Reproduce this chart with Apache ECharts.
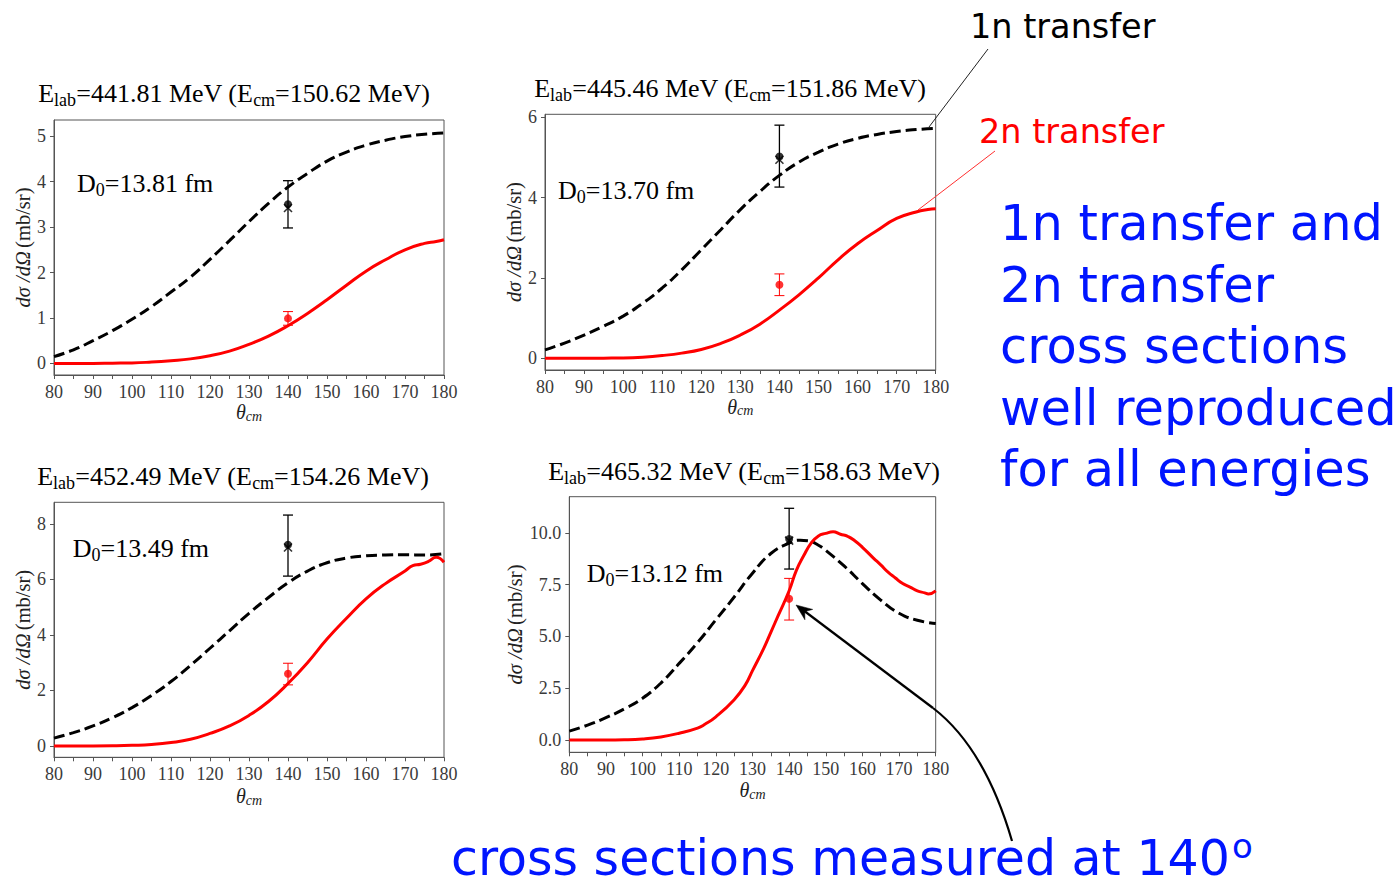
<!DOCTYPE html>
<html><head><meta charset="utf-8">
<script src="https://cdn.jsdelivr.net/npm/echarts@6/dist/echarts.min.js"></script>
<style>html,body{margin:0;padding:0;background:#fff}#c{width:1399px;height:886px}</style>
</head><body><div id="c"></div>
<script>
// ---------- data ----------
const thetaA = [80,85,90,95,100,105,110,115,120,125,130,135,140,145,150,155,160,165,170,175,180];
const thetaB = [80,85,90,95,100,105,110,115,120,125,130,135,140,145,150,155,160,165,170,175,178,180];
const thetaC = [80,85,90,95,100,105,110,115,120,125,130,135,140,145,150,155,160,165,170,172,174,176,178,180];
const thetaD1 = [80,85,90,95,100,105,110,115,120,125,130,135,140,143,145,148,150,155,160,165,170,175,180];
const thetaD2 = [80,85,90,95,100,105,110,115,117,120,125,128,130,133,135,137,140,142,144,146,148,150,152,154,156,158,160,163,165,167,169,171,173,175,177,178,180];

const p1_1n = [0.15,0.3,0.5,0.72,0.97,1.25,1.57,1.9,2.29,2.7,3.12,3.52,3.88,4.18,4.45,4.65,4.8,4.91,4.99,5.04,5.07];
const p1_2n = [0,0,0,0.005,0.01,0.03,0.06,0.1,0.17,0.27,0.42,0.6,0.83,1.1,1.4,1.72,2.03,2.28,2.5,2.64,2.68,2.72];
const p2_1n = [0.21,0.38,0.58,0.8,1.05,1.37,1.75,2.2,2.7,3.2,3.7,4.15,4.55,4.88,5.13,5.33,5.47,5.57,5.64,5.69,5.72];
const p2_2n = [0,0,0,0.005,0.01,0.03,0.07,0.13,0.22,0.37,0.58,0.85,1.2,1.58,2.0,2.45,2.85,3.18,3.48,3.64,3.7,3.72];
const p3_1n = [0.28,0.48,0.72,1.02,1.38,1.82,2.32,2.9,3.52,4.15,4.78,5.35,5.88,6.3,6.6,6.77,6.85,6.88,6.89,6.88,6.93];
const p3_2n = [0,0,0,0.005,0.02,0.05,0.12,0.24,0.45,0.72,1.1,1.6,2.25,3.0,3.85,4.6,5.3,5.85,6.3,6.5,6.55,6.65,6.8,6.62];
const p4_1n = [0.43,0.72,1.08,1.5,2.02,2.75,3.7,4.7,5.8,6.9,8.05,9.0,9.5,9.64,9.62,9.4,9.15,8.4,7.55,6.75,6.12,5.78,5.62];
const p4_2n = [0,0,0,0.01,0.05,0.15,0.33,0.58,0.76,1.12,1.95,2.65,3.35,4.4,5.2,6.0,7.2,8.2,8.9,9.5,9.85,9.97,10.05,9.93,9.83,9.6,9.3,8.78,8.45,8.1,7.82,7.55,7.38,7.2,7.1,7.05,7.2];

const measTheta = 140;
const exp1n = [3.5, 5.02, 7.25, 9.7];
const exp1nCross = [3.42, 4.94, 7.15, 9.62];
const err1nLow = [2.98, 4.26, 6.12, 8.25];
const err1nHigh = [4.02, 5.8, 8.32, 11.18];
const exp2n = [0.99, 1.83, 2.6, 6.82];
const err2nLow = [0.84, 1.56, 2.2, 5.79];
const err2nHigh = [1.14, 2.1, 2.98, 7.8];

const eLab = ['441.81','445.46','452.49','465.32'];
const eCm = ['150.62','151.86','154.26','158.63'];
const d0 = ['13.81','13.70','13.49','13.12'];

const xLabels = [80,90,100,110,120,130,140,150,160,170,180];
const yLabels = [[0,1,2,3,4,5],[0,2,4,6],[0,2,4,6,8],[0,2.5,5,7.5,10]];
const yDecimals = [0,0,0,1];

// ---------- layout ----------
const layout = [
  {left:54, top:120, width:390, height:255, ymin:-0.255, ymax:5.355, yGap:21, xGap:26,
   title:[234,93.5], d0:[77,183.5]},
  {left:545, top:114.3, width:390.7, height:255.7, ymin:-0.29, ymax:6.07, yGap:21, xGap:25,
   title:[730,88.5], d0:[558,190]},
  {left:54, top:502.3, width:390, height:255, ymin:-0.41, ymax:8.78, yGap:21, xGap:28,
   title:[233,476.5], d0:[72.7,548.3]},
  {left:569.3, top:496.7, width:366.4, height:255.6, ymin:-0.59, ymax:11.74, yGap:21, xGap:27,
   title:[744,471.5], d0:[586.7,573.3]}
];
const curves1n = [[thetaA,p1_1n],[thetaA,p2_1n],[thetaA,p3_1n],[thetaD1,p4_1n]];
const curves2n = [[thetaB,p1_2n],[thetaB,p2_2n],[thetaC,p3_2n],[thetaD2,p4_2n]];

const SERIF = 'Liberation Serif';
const SANS = 'DejaVu Sans';
const BLUE = '#0015ff';
const zip = (xs, ys) => xs.map((x,i)=>[x,ys[i]]);

const grids = [], xAxes = [], yAxes = [], series = [], graphics = [];

function errRender(color, lw) {
  return function(params, api) {
    const x = api.value(0);
    const lo = api.coord([x, api.value(1)]);
    const hi = api.coord([x, api.value(2)]);
    const hw = 5;
    const st = {stroke: color, lineWidth: lw, fill: null};
    return {type:'group', children:[
      {type:'line', shape:{x1:lo[0],y1:lo[1],x2:hi[0],y2:hi[1]}, style:st},
      {type:'line', shape:{x1:lo[0]-hw,y1:lo[1],x2:lo[0]+hw,y2:lo[1]}, style:st},
      {type:'line', shape:{x1:hi[0]-hw,y1:hi[1],x2:hi[0]+hw,y2:hi[1]}, style:st}
    ]};
  };
}

layout.forEach((L, i) => {
  grids.push({left:L.left, top:L.top, width:L.width, height:L.height, show:true,
    borderColor:'#555', borderWidth:1, backgroundColor:'transparent', containLabel:false});
  xAxes.push({type:'value', gridIndex:i, min:80, max:180, interval:5,
    axisLine:{show:true, onZero:false, lineStyle:{color:'#555', width:1}},
    axisTick:{show:true, length:4, lineStyle:{color:'#555', width:1}},
    splitLine:{show:false},
    axisLabel:{customValues:xLabels, margin:8, color:'#3a3a3a', fontFamily:SERIF, fontSize:18},
    name:'{i|θ}{s|cm}', nameLocation:'middle', nameGap:L.xGap,
    nameTextStyle:{rich:{
      i:{fontFamily:SERIF, fontStyle:'italic', fontSize:20, color:'#222', lineHeight:22},
      s:{fontFamily:SERIF, fontStyle:'italic', fontSize:14, color:'#222', lineHeight:14, verticalAlign:'bottom'}}}
  });
  yAxes.push({type:'value', gridIndex:i, min:L.ymin, max:L.ymax,
    axisLine:{show:true, onZero:false, lineStyle:{color:'#555', width:1}},
    axisTick:{show:true, length:4, customValues:yLabels[i], lineStyle:{color:'#555', width:1}},
    splitLine:{show:false},
    axisLabel:{customValues:yLabels[i], margin:8, color:'#3a3a3a', fontFamily:SERIF, fontSize:18,
      formatter: v => v.toFixed(yDecimals[i])},
    name:'{i|dσ /dΩ} {n|(mb/sr)}', nameLocation:'middle', nameGap:L.yGap,
    nameTextStyle:{rich:{
      i:{fontFamily:SERIF, fontStyle:'italic', fontSize:20.5, color:'#222'},
      n:{fontFamily:SERIF, fontSize:20.5, color:'#222'}}}
  });
  series.push({type:'line', name:'1n transfer', xAxisIndex:i, yAxisIndex:i,
    data: zip(curves1n[i][0], curves1n[i][1]), smooth:0.5, showSymbol:false,
    lineStyle:{color:'#000', width:3, type:[11,5]}, z:3});
  series.push({type:'line', name:'2n transfer', xAxisIndex:i, yAxisIndex:i,
    data: zip(curves2n[i][0], curves2n[i][1]), smooth:0.5, showSymbol:false,
    lineStyle:{color:'#ff0000', width:3}, z:3});
  series.push({type:'custom', xAxisIndex:i, yAxisIndex:i, renderItem: errRender('#000', 1.3),
    encode:{x:0, y:[1,2]}, data:[[measTheta, err1nLow[i], err1nHigh[i]]], z:4});
  series.push({type:'custom', xAxisIndex:i, yAxisIndex:i, renderItem: errRender('#ff0000', 1),
    encode:{x:0, y:[1,2]}, data:[[measTheta, err2nLow[i], err2nHigh[i]]], z:4});
  series.push({type:'scatter', xAxisIndex:i, yAxisIndex:i, data:[[measTheta, exp1nCross[i]]],
    symbol:'path://M0,0L10,10M10,0L0,10', symbolSize:8,
    itemStyle:{color:'none', borderColor:'#000', borderWidth:1.6}, z:5});
  series.push({type:'scatter', xAxisIndex:i, yAxisIndex:i, data:[[measTheta, exp1n[i]]],
    symbol:'circle', symbolSize:8, itemStyle:{color:'#000'}, z:6});
  series.push({type:'scatter', xAxisIndex:i, yAxisIndex:i, data:[[measTheta, exp2n[i]]],
    symbol:'circle', symbolSize:8, itemStyle:{color:'#ff0000'}, z:6});

  const rich = {
    n:{fontFamily:SERIF, fontSize:26, fill:'#000', lineHeight:31},
    s:{fontFamily:SERIF, fontSize:18, fill:'#000', lineHeight:18, verticalAlign:'bottom'}
  };
  graphics.push({type:'text', x:L.title[0], y:L.title[1], z:100,
    style:{text:'{n|E}{s|lab}{n|=' + eLab[i] + ' MeV (E}{s|cm}{n|=' + eCm[i] + ' MeV)}',
      rich:rich, align:'center', verticalAlign:'middle'}});
  graphics.push({type:'text', x:L.d0[0], y:L.d0[1], z:100,
    style:{text:'{n|D}{s|0}{n|=' + d0[i] + ' fm}', rich:rich, align:'left', verticalAlign:'middle'}});
});

// annotations
graphics.push({type:'text', x:970, y:26.5, z:100,
  style:{text:'1n transfer', fontFamily:SANS, fontSize:33.5, fill:'#000', align:'left', verticalAlign:'middle'}});
graphics.push({type:'text', x:979, y:131.5, z:100,
  style:{text:'2n transfer', fontFamily:SANS, fontSize:33.5, fill:'#ff0000', align:'left', verticalAlign:'middle'}});
graphics.push({type:'line', z:100, shape:{x1:988,y1:49,x2:929,y2:127}, style:{stroke:'#222', lineWidth:1}});
graphics.push({type:'line', z:100, shape:{x1:995,y1:151,x2:918,y2:210}, style:{stroke:'#ff3030', lineWidth:1}});
graphics.push({type:'text', x:1000, y:192.6, z:100,
  style:{text:'1n transfer and\n2n transfer\ncross sections\nwell reproduced\nfor all energies',
    fontFamily:SANS, fontSize:49.5, lineHeight:61.5, fill:BLUE, align:'left', verticalAlign:'top'}});
graphics.push({type:'text', x:451, y:858, z:100,
  style:{text:'{a|cross sections measured at 140}{b|o}', align:'left', verticalAlign:'middle',
    rich:{a:{fontFamily:SANS, fontSize:49, fill:BLUE, lineHeight:40},
          b:{fontFamily:SANS, fontSize:34, fill:BLUE, lineHeight:34, verticalAlign:'top', padding:[-9,0,0,2]}}}});
graphics.push({type:'polyline', z:100, shape:{points:[[803,610],[933,708]]},
  style:{stroke:'#000', lineWidth:2.2, fill:null}});
graphics.push({type:'bezierCurve', z:100, shape:{x1:933,y1:708,cpx1:985,cpy1:748,x2:1012,y2:841},
  style:{stroke:'#000', lineWidth:2.2, fill:null}});
graphics.push({type:'polygon', z:101, shape:{points:[[796,605],[804.9,619.8],[804.8,611.6],[812.7,609.4]]},
  style:{fill:'#000', stroke:'#000', lineWidth:0.5}});

const chart = echarts.init(document.getElementById('c'), null, {renderer:'svg'});
chart.setOption({
  animation:false,
  backgroundColor:'#fff',
  grid:grids, xAxis:xAxes, yAxis:yAxes, series:series, graphic:{elements:graphics}
});
</script></body></html>
